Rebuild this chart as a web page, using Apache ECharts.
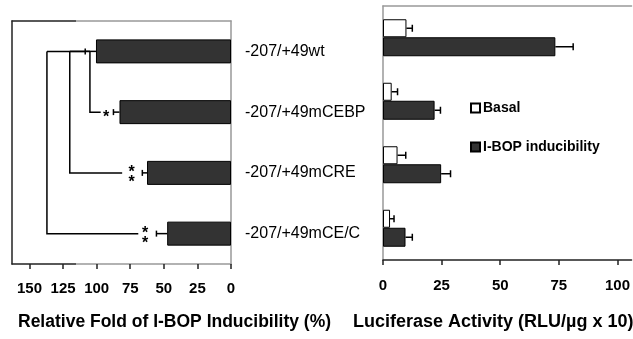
<!DOCTYPE html>
<html>
<head>
<meta charset="utf-8">
<script src="https://cdn.jsdelivr.net/npm/echarts@6/dist/echarts.min.js"></script>
<style>
  html, body { margin: 0; padding: 0; background: #fff; }
  #chart { width: 633px; height: 339px; }
</style>
</head>
<body>
<div id="chart"></div>
<script>
// promoter constructs (top to bottom)
const constructs = ['-207/+49wt', '-207/+49mCEBP', '-207/+49mCRE', '-207/+49mCE/C']
// left panel: relative fold of I-BOP inducibility (%)
const relFold = [100.5, 83, 62.5, 47.5]
const relFoldErr = [8, 4.5, 3.5, 8]
// right panel: luciferase activity (RLU/ug x 10)
const basal = [10, 3.7, 6.2, 3]
const basalErr = [2.5, 2.5, 3.5, 1.7]
const induced = [73.5, 22, 24.8, 9.6]
const inducedErr = [7.6, 2.5, 4, 2.9]
// significance vs wt: construct index, bracket value, line end value, star value, number of stars
const sigIndex = [1, 2, 3]
const sigBracket = [105, 120, 137]
const sigLineEnd = [97, 81, 69]
const sigStarAt = [93, 74, 64]
const sigStars = [1, 2, 2]
// axes
const leftMax = 163
const rightMax = 106
const tickStep = 25

const font = "'Liberation Sans', Arial, sans-serif"

const myChart = echarts.init(document.getElementById('chart'))

// dark left part, lighter rest (as in the scan)
function splitLine() {
  return new echarts.graphic.LinearGradient(0, 0, 1, 0, [
    { offset: 0, color: '#222' }, { offset: 0.297, color: '#222' },
    { offset: 0.297, color: '#999' }, { offset: 1, color: '#999' }
  ])
}

function errorBars(xi, yi, values, errs, offset, cap) {
  return {
    type: 'custom',
    xAxisIndex: xi,
    yAxisIndex: yi,
    silent: true,
    z: 5,
    data: values.map((v, i) => [v, v + errs[i], i]),
    encode: { x: [0, 1], y: 2 },
    renderItem(params, api) {
      const a = api.coord([api.value(0), api.value(2)])
      const b = api.coord([api.value(1), api.value(2)])
      const y = a[1] + offset
      const st = { stroke: '#000', lineWidth: 1.5 }
      return {
        type: 'group',
        children: [
          { type: 'line', shape: { x1: a[0], y1: y, x2: b[0], y2: y }, style: st },
          { type: 'line', shape: { x1: b[0], y1: y - cap, x2: b[0], y2: y + cap }, style: st }
        ]
      }
    }
  }
}

const brackets = {
  type: 'custom',
  xAxisIndex: 0,
  yAxisIndex: 0,
  silent: true,
  z: 4,
  data: sigIndex.map((ci, k) => [ci, sigBracket[k], sigLineEnd[k], sigStarAt[k], sigStars[k]]),
  encode: { y: 0, x: [1, 2, 3] },
  renderItem(params, api) {
    const ci = api.value(0)
    const wtEnd = api.coord([relFold[0] + relFoldErr[0], 0])
    const top = api.coord([api.value(1), 0])
    const mid = api.coord([api.value(1), ci])
    const end = api.coord([api.value(2), ci])
    const star = api.coord([api.value(3), ci])
    const n = api.value(4)
    const st = { stroke: '#000', lineWidth: 1.5, fill: null }
    const children = [
      { type: 'line', shape: { x1: wtEnd[0], y1: wtEnd[1], x2: top[0], y2: top[1] }, style: st },
      { type: 'polyline', shape: { points: [top, mid, end] }, style: st }
    ]
    const offs = n === 1 ? [0] : [-5, 5]
    offs.forEach(o => {
      children.push({
        type: 'text',
        style: {
          text: '*', x: star[0], y: star[1] + o + 5,
          align: 'center', verticalAlign: 'middle',
          font: 'bold 16px ' + font, fill: '#000'
        }
      })
    })
    return { type: 'group', children }
  }
}

const tickLabel = { showMaxLabel: false, fontSize: 15, fontWeight: 'bold', color: '#000', fontFamily: font }

const option = {
  backgroundColor: '#fff',
  animation: false,
  textStyle: { fontFamily: font },
  title: [
    { text: 'Relative Fold of I-BOP Inducibility (%)', left: 18, top: 313, padding: 0,
      textStyle: { fontSize: 17.5, fontWeight: 'bold', color: '#000', fontFamily: font } },
    { text: 'Luciferase Activity (RLU/\u00b5g x 10)', left: 353, top: 313, padding: 0,
      textStyle: { fontSize: 18, fontWeight: 'bold', color: '#000', fontFamily: font } }
  ],
  legend: {
    orient: 'vertical',
    left: 470,
    top: 101,
    padding: 0,
    itemGap: 25,
    itemWidth: 9,
    itemHeight: 9,
    icon: 'rect',
    textStyle: { fontSize: 14, fontWeight: 'bold', color: '#000', fontFamily: font, padding: [0, 0, 0, -2] },
    data: ['Basal', 'I-BOP inducibility']
  },
  grid: [
    { left: 12, right: 402, top: 21, height: 243 },
    { left: 383, right: 0, top: 6, height: 254 }
  ],
  xAxis: [
    {
      type: 'value', gridIndex: 0, inverse: true, min: 0, max: leftMax, interval: tickStep,
      axisLine: { show: true, onZero: false, lineStyle: { color: splitLine(), width: 1.5 } },
      axisTick: { show: true, length: 5, lineStyle: { color: '#222', width: 1.5 } },
      axisLabel: Object.assign({ margin: 17 }, tickLabel),
      splitLine: { show: false }
    },
    {
      type: 'value', gridIndex: 0, inverse: true, min: 0, max: leftMax, position: 'top',
      axisLine: { show: true, onZero: false, lineStyle: { color: splitLine(), width: 1.5 } },
      axisTick: { show: false }, axisLabel: { show: false }, splitLine: { show: false }
    },
    {
      type: 'value', gridIndex: 1, min: 0, max: rightMax, interval: tickStep,
      axisLine: { show: true, onZero: false, lineStyle: { color: '#222', width: 1.5 } },
      axisTick: { show: true, length: 5, lineStyle: { color: '#222', width: 1.5 } },
      axisLabel: Object.assign({ margin: 18 }, tickLabel),
      splitLine: { show: false }
    },
    {
      type: 'value', gridIndex: 1, min: 0, max: rightMax, position: 'top',
      axisLine: { show: true, onZero: false, lineStyle: { color: '#999', width: 1.5 } },
      axisTick: { show: false }, axisLabel: { show: false }, splitLine: { show: false }
    }
  ],
  yAxis: [
    {
      type: 'category', gridIndex: 0, data: constructs, inverse: true, position: 'right',
      axisLine: { show: true, onZero: false, lineStyle: { color: '#999', width: 1.5 } },
      axisTick: { show: false },
      axisLabel: { margin: 14, align: 'left', fontSize: 16, color: '#000', fontFamily: font }
    },
    {
      type: 'category', gridIndex: 0, data: constructs, inverse: true, position: 'left',
      axisLine: { show: true, onZero: false, lineStyle: { color: '#222', width: 1.5 } },
      axisTick: { show: false }, axisLabel: { show: false }
    },
    {
      type: 'category', gridIndex: 1, data: constructs, inverse: true, position: 'left',
      axisLine: { show: true, onZero: false, lineStyle: { color: '#999', width: 1.5 } },
      axisTick: { show: false }, axisLabel: { show: false }
    }
  ],
  series: [
    {
      name: 'Relative fold', type: 'bar', xAxisIndex: 0, yAxisIndex: 0,
      data: relFold, barWidth: 24,
      itemStyle: { color: '#333', borderColor: '#000', borderWidth: 1 }
    },
    errorBars(0, 0, relFold, relFoldErr, 0, 3),
    brackets,
    {
      name: 'Basal', type: 'bar', xAxisIndex: 2, yAxisIndex: 2,
      data: basal, barWidth: 18, barGap: '0%',
      itemStyle: { color: '#fff', borderColor: '#000', borderWidth: 1 }
    },
    {
      name: 'I-BOP inducibility', type: 'bar', xAxisIndex: 2, yAxisIndex: 2,
      data: induced, barWidth: 19, barGap: '0%',
      itemStyle: { color: '#333', borderColor: '#000', borderWidth: 1 }
    },
    errorBars(2, 2, basal, basalErr, -9.5, 3.5),
    errorBars(2, 2, induced, inducedErr, 9, 3.5)
  ]
}

myChart.setOption(option)
</script>
</body>
</html>
